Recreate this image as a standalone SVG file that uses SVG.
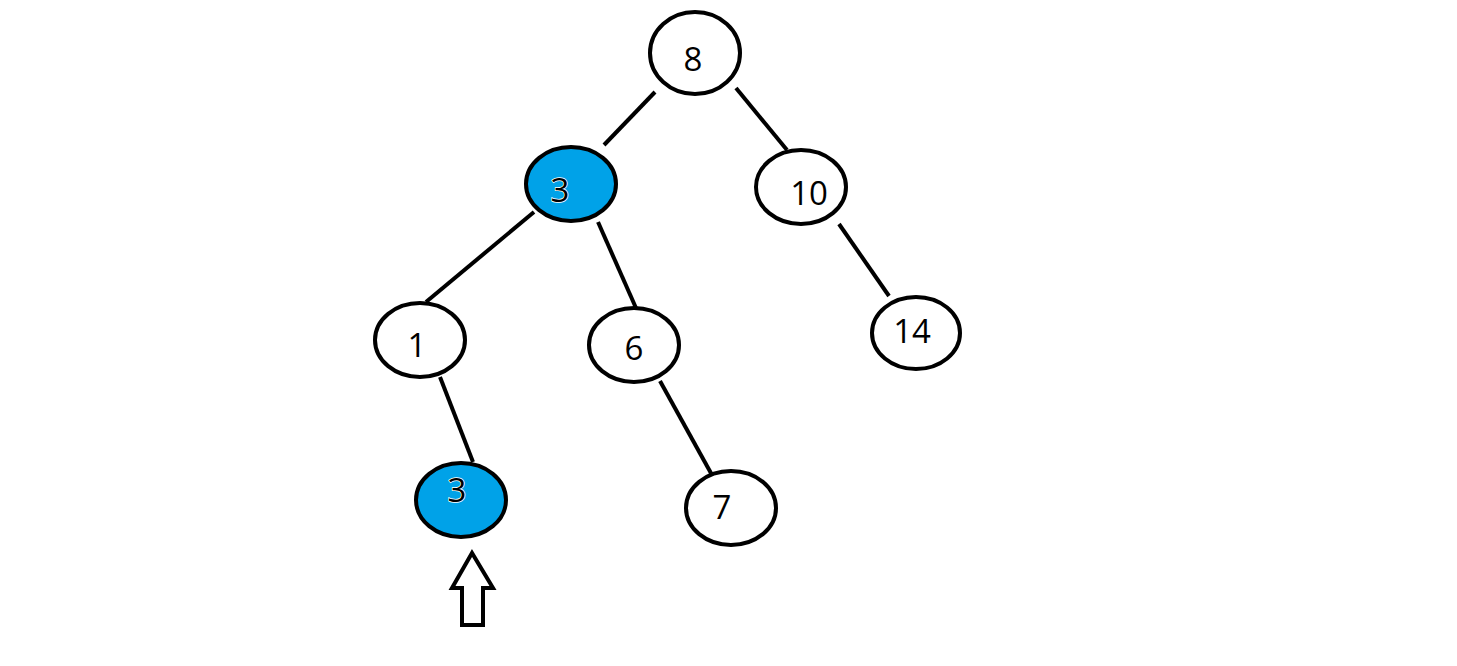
<svg xmlns="http://www.w3.org/2000/svg" width="1457" height="666" viewBox="0 0 1457 666">
<style>
.n{fill:#fff;stroke:#000;stroke-width:4}
.b{fill:#00a2e8;stroke:#000;stroke-width:4}
.t{font-family:"Open Sans","Noto Sans",sans-serif;font-size:33px;fill:#000;text-anchor:middle}
.tb{stroke:#fff;stroke-width:1.5;paint-order:stroke}
.c line{stroke:#000;stroke-width:4;stroke-linecap:butt}
</style>
<rect width="1457" height="666" fill="#fff"/>
<g id="connectors" class="c">
<line x1="655" y1="92" x2="604" y2="145"/>
<line x1="736" y1="88" x2="787" y2="150"/>
<line x1="534" y1="212" x2="426" y2="302"/>
<line x1="598" y1="222" x2="636" y2="308"/>
<line x1="839" y1="224" x2="889" y2="296"/>
<line x1="440" y1="377" x2="473" y2="462"/>
<line x1="660" y1="381" x2="712" y2="475"/>
</g>
<g id="node8"><ellipse class="n" cx="695" cy="53" rx="45" ry="41"/><text class="t" x="693" y="71">8</text></g>
<g id="node3a"><ellipse class="b" cx="571" cy="184" rx="45" ry="37"/><text class="t tb" x="560" y="202">3</text></g>
<g id="node10"><ellipse class="n" cx="801" cy="187" rx="45" ry="37"/><text class="t" x="809" y="205">10</text></g>
<g id="node1"><ellipse class="n" cx="420" cy="340" rx="45" ry="37"/><text class="t" x="417" y="357">1</text></g>
<g id="node6"><ellipse class="n" cx="634" cy="345" rx="45" ry="37"/><text class="t" x="634" y="360">6</text></g>
<g id="node14"><ellipse class="n" cx="916" cy="333" rx="44" ry="36"/><text class="t" x="912" y="343">14</text></g>
<g id="node3b"><ellipse class="b" cx="461" cy="500" rx="45" ry="37"/><text class="t tb" x="457" y="502">3</text></g>
<g id="node7"><ellipse class="n" cx="731" cy="508" rx="45" ry="37"/><text class="t" x="722" y="519">7</text></g>
<g id="arrow"><polygon points="472,553 452,588 462,588 462,625 483,625 483,588 493,588" fill="#fff" stroke="#000" stroke-width="4" stroke-linejoin="miter"/></g>
</svg>
